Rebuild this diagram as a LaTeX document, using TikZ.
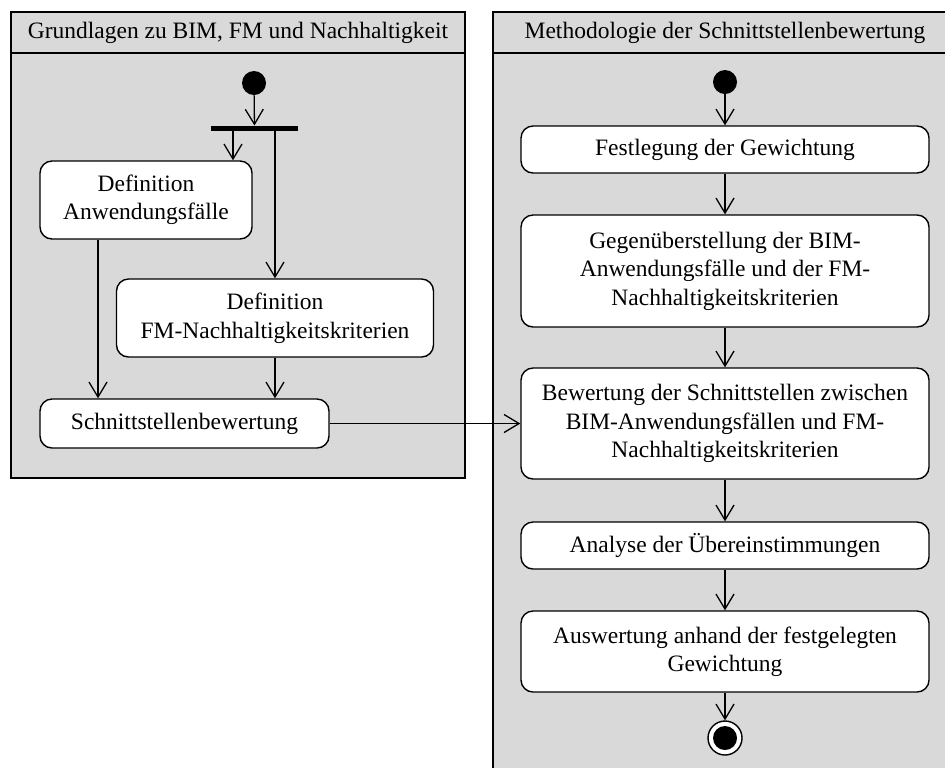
\documentclass[tikz,border=0pt]{standalone}
\usepackage{fontspec}
\setmainfont{Liberation Serif}
\usetikzlibrary{arrows.meta}
\definecolor{lanegray}{RGB}{217,217,217}

\begin{document}
\begin{tikzpicture}[x=0.5pt, y=-0.5pt,
  lane/.style={draw=black, fill=lanegray, line width=0.75pt},
  act/.style={draw, fill=white, rounded corners=6pt, line width=0.7pt,
    align=center, inner sep=0pt, font=\fontsize{11.75}{14.25}\selectfont},
  flow/.style={line width=0.65pt,
    -{Straight Barb[length=7.5pt, width=9pt, line width=0.65pt]}},
  init/.style={circle, fill=black, inner sep=0pt, minimum size=12pt},
  forkbar/.style={fill=black, inner sep=0pt, minimum width=43.5pt, minimum height=2.6pt},
  lanetitle/.style={font=\fontsize{11.75}{14.25}\selectfont}]

\clip (0,0) rectangle (945,767);

% ---------- Schwimmbahnen
\draw[lane] (11,12) rectangle (465,478);
\draw[line width=0.75pt] (11,53) -- (465,53);
\node[lanetitle] (titleL) at (238,33) {Grundlagen zu BIM, FM und Nachhaltigkeit};

\draw[lane] (493,12) rectangle (960,790);
\draw[line width=0.75pt] (493,53) -- (960,53);
\node[lanetitle] (titleR) at (725,33) {Methodologie der Schnittstellenbewertung};

% ---------- linke Bahn
\node[init] (startL) at (254,83) {};
\node[forkbar] (fork) at (254.5,128.5) {};
\coordinate (forkA) at (233,131);
\coordinate (forkB) at (275,131);

\node[act, minimum width=106pt, minimum height=39pt] (defuc) at (146,200)
  {Definition\\Anwendungsfälle};
\node[act, minimum width=158.5pt, minimum height=39pt] (defnk) at (275,318)
  {Definition\\FM-Nachhaltigkeitskriterien};
\node[act, minimum width=144.5pt, minimum height=24.5pt] (sbew) at (184.5,423.5)
  {Schnittstellenbewertung};

\draw[flow] (startL) -- (fork);
\draw[flow] (forkA) -- (forkA |- defuc.north);
\draw[flow] (forkB) -- (defnk.north);
\draw[flow] ([xshift=-24pt]defuc.south) -- ([xshift=-24pt]defuc.south |- sbew.north);
\draw[flow] (defnk.south) -- (defnk.south |- sbew.north);

% ---------- rechte Bahn
\node[init] (startR) at (725,82) {};
\node[act, minimum width=204pt, minimum height=23.5pt] (gew) at (725,149.5)
  {Festlegung der Gewichtung};
\node[act, minimum width=204pt, minimum height=56pt] (geg) at (725,271)
  {Gegenüberstellung der BIM-\\Anwendungsfälle und der FM-\\Nachhaltigkeitskriterien};
\node[act, minimum width=204pt, minimum height=55.5pt] (bew) at (725,423.5)
  {Bewertung der Schnittstellen zwischen\\BIM-Anwendungsfällen und FM-\\Nachhaltigkeitskriterien};
\node[act, minimum width=204pt, minimum height=23.5pt] (ana) at (725,545.5)
  {Analyse der Übereinstimmungen};
\node[act, minimum width=204pt, minimum height=40.5pt] (ausw) at (725,651.5)
  {Auswertung anhand der festgelegten\\Gewichtung};
\node[circle, draw, line width=0.7pt, fill=white, inner sep=0pt, minimum size=17pt]
  (finalR) at (725,738) {};
\fill (finalR.center) circle (6pt);

\draw[flow] (startR) -- (gew);
\draw[flow] (gew) -- (geg);
\draw[flow] (geg) -- (bew);
\draw[flow] (bew) -- (ana);
\draw[flow] (ana) -- (ausw);
\draw[flow] (ausw) -- (finalR);

% ---------- Übergang zwischen den Bahnen
\draw[flow] (sbew.east) -- (bew.west);
\end{tikzpicture}
\end{document}
